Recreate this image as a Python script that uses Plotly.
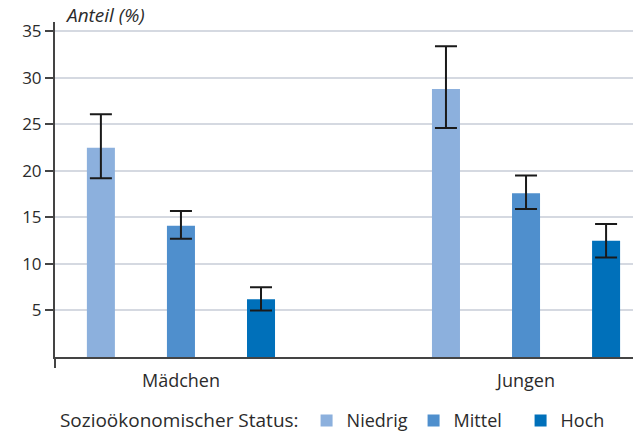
import plotly.graph_objects as go

groups = ["Mädchen", "Jungen"]
status = ["Niedrig", "Mittel", "Hoch"]
values = {
    "Niedrig": [22.5, 28.8],
    "Mittel": [14.1, 17.6],
    "Hoch": [6.2, 12.5],
}
upper = {
    "Niedrig": [26.1, 33.4],
    "Mittel": [15.7, 19.5],
    "Hoch": [7.5, 14.3],
}
lower = {
    "Niedrig": [19.2, 24.6],
    "Mittel": [12.7, 15.9],
    "Hoch": [5.0, 10.7],
}
colors = {"Niedrig": "#8cb0dd", "Mittel": "#4f8fcd", "Hoch": "#0070ba"}
yticks = [5, 10, 15, 20, 25, 30, 35]

FONT = "Open Sans"
TXT = "#2b2b2b"
AX = "#444444"

fig = go.Figure()
for s in status:
    fig.add_trace(go.Bar(
        name=s, x=groups, y=values[s],
        marker=dict(color=colors[s], line=dict(width=0)),
        error_y=dict(
            type="data", symmetric=False,
            array=[u - v for u, v in zip(upper[s], values[s])],
            arrayminus=[v - l for v, l in zip(values[s], lower[s])],
            color="#1a1a1a", thickness=2, width=11,
        ),
    ))

fig.update_layout(
    width=633, height=432,
    margin=dict(l=55, r=0, t=22, b=75, autoexpand=False),
    paper_bgcolor="white", plot_bgcolor="white",
    barmode="group", bargap=0.304, bargroupgap=0.65,
    font=dict(family=FONT, size=16, color=TXT),
    showlegend=True,
    legend=dict(
        orientation="h", x=0.005, xanchor="left", y=-0.135, yanchor="top",
        title=dict(text="Sozioökonomischer Status:", font=dict(size=19, color=TXT), side="left"),
        font=dict(size=18, color=TXT),
        entrywidth=62, entrywidthmode="pixels",
        itemwidth=30,
    ),
    xaxis=dict(
        range=[-0.365, 1.31], showgrid=False, zeroline=False,
        showline=True, linecolor=AX, linewidth=2,
        ticks="", tickfont=dict(size=18, color=TXT), automargin=False,
        ticklabelstandoff=6,
    ),
    yaxis=dict(
        range=[0, 36], tickvals=yticks, showgrid=True, gridcolor="#d5d9e1", gridwidth=2,
        zeroline=False, showline=True, linecolor=AX, linewidth=2,
        ticks="outside", ticklen=8, tickcolor=AX, tickwidth=2,
        tickfont=dict(size=17, color=TXT), automargin=False,
    ),
    shapes=[dict(
        type="line", xref="paper", yref="paper", x0=0, x1=0, y0=0, y1=-11 / 335,
        line=dict(color=AX, width=2),
    )],
    annotations=[dict(
        text="<i>Anteil (%)</i>", xref="paper", yref="paper", x=0.014, y=1 + 7 / 335,
        xanchor="left", yanchor="middle", showarrow=False,
        font=dict(size=19, color=TXT),
    )],
)

fig.write_html(
    "out.html",
    config={"displayModeBar": False},
    post_script="document.body.style.margin='0px';document.body.style.overflow='hidden';",
)
